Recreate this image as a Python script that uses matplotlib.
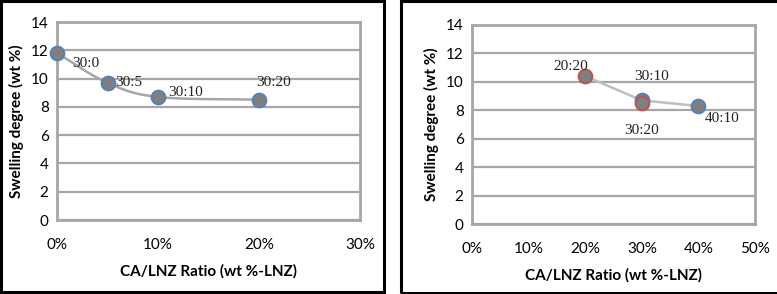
import numpy as np
import matplotlib
matplotlib.use("Agg")
import matplotlib.pyplot as plt
from matplotlib.patches import Rectangle
from matplotlib.ticker import FuncFormatter

# left panel: 30 wt% CA, varying LNZ
left_x = [0, 5, 10, 20]
left_y = [11.8, 9.7, 8.7, 8.5]
left_labels = ["30:0", "30:5", "30:10", "30:20"]
left_label_pos = [(2.8, 11.1), (7.1, 9.7), (12.7, 9.0), (21.4, 9.7)]

# right panel: varying CA/LNZ
right_x = [20, 30, 30, 40]
right_y = [10.4, 8.7, 8.5, 8.3]
right_edges = ["#c0504d", "#4f81bd", "#c0504d", "#4f81bd"]
right_labels = ["20:20", "30:10", "30:20", "40:10"]
right_label_pos = [(17.5, 11.05), (31.8, 10.35), (29.9, 6.6), (44.2, 7.45)]
right_line_x = [20, 30, 40]
right_line_y = [10.4, 8.7, 8.3]

GRID = "#a6a6a6"
FILL = "#7f7f7f"
BLUE = "#4f81bd"
FONT = "Lato"


def smooth(xs, ys, n=30):
    # Catmull-Rom curve through the points (like Excel's smoothed line)
    p = np.column_stack([xs, ys]).astype(float)
    p = np.vstack([2 * p[0] - p[1], p, 2 * p[-1] - p[-2]])
    out = []
    t = np.linspace(0, 1, n)[:, None]
    for i in range(1, len(p) - 2):
        p0, p1, p2, p3 = p[i - 1], p[i], p[i + 1], p[i + 2]
        seg = 0.5 * ((2 * p1) + (-p0 + p2) * t + (2 * p0 - 5 * p1 + 4 * p2 - p3) * t ** 2
                     + (-p0 + 3 * p1 - 3 * p2 + p3) * t ** 3)
        out.append(seg)
    out = np.vstack(out)
    return out[:, 0], out[:, 1]


def style_axes(ax, xmax):
    ax.set_ylim(0, 14)
    ax.set_xlim(0, xmax)
    ax.set_yticks(range(0, 15, 2))
    ax.set_xticks(range(0, xmax + 1, 10))
    ax.xaxis.set_major_formatter(FuncFormatter(lambda v, _: f"{int(v)}%"))
    ax.grid(axis="y", color=GRID, linewidth=1.6)
    ax.set_axisbelow(True)
    for s in ax.spines.values():
        s.set_color(GRID)
        s.set_linewidth(2)
    ax.tick_params(length=0, labelsize=11, pad=6)
    ax.tick_params(axis="x", pad=13)
    for lab in ax.get_xticklabels() + ax.get_yticklabels():
        lab.set_fontfamily(FONT)
    ax.set_xlabel("CA/LNZ Ratio (wt %-LNZ)", fontsize=11, fontweight="bold",
                  family=FONT, labelpad=9)
    ax.set_ylabel("Swelling degree (wt %)", fontsize=11, fontweight="bold",
                  family=FONT, labelpad=5)


fig = plt.figure(figsize=(7.77, 2.94), dpi=100)

# panel frames
fig.add_artist(Rectangle((0.5 / 777, 1 - 292 / 294), 383.5 / 777, 291 / 294,
                         transform=fig.transFigure, fill=False, edgecolor="black", linewidth=2.2))
fig.add_artist(Rectangle((401 / 777, 1 - 293 / 294), 380 / 777, 292 / 294,
                         transform=fig.transFigure, fill=False, edgecolor="black", linewidth=2.2))

ax1 = fig.add_axes([57 / 777, 1 - 220 / 294, 303 / 777, 198 / 294])
style_axes(ax1, 30)
sx, sy = smooth(left_x, left_y)
ax1.plot(sx, sy, color=GRID, linewidth=1.8, zorder=2)
ax1.plot(left_x, left_y, "o", markersize=10, markerfacecolor=FILL,
         markeredgecolor=BLUE, markeredgewidth=1.3, zorder=3, clip_on=False)
for lab, (tx, ty) in zip(left_labels, left_label_pos):
    ax1.text(tx, ty, lab, ha="center", va="center", fontsize=11,
             family="Liberation Serif", color="#222222")

ax2 = fig.add_axes([472 / 777, 1 - 224 / 294, 283 / 777, 199 / 294])
style_axes(ax2, 50)
ax2.plot(right_line_x, right_line_y, color="#bfbfbf", linewidth=1.8, zorder=2)
for x, y, ec in zip(right_x, right_y, right_edges):
    ax2.plot([x], [y], "o", markersize=10, markerfacecolor=FILL,
             markeredgecolor=ec, markeredgewidth=1.3, zorder=3)
for lab, (tx, ty) in zip(right_labels, right_label_pos):
    ax2.text(tx, ty, lab, ha="center", va="center", fontsize=11,
             family="Liberation Serif", color="#222222")

fig.savefig("out.png", dpi=100)
